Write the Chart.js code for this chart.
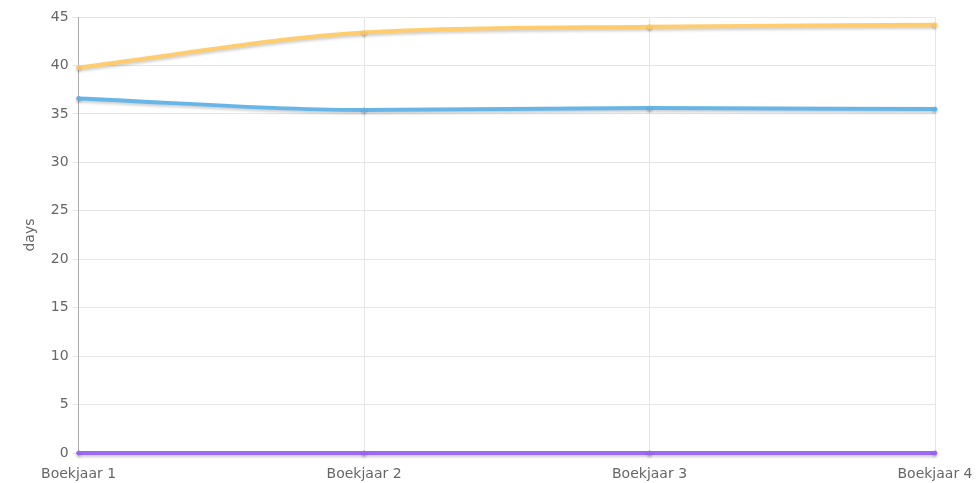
<!DOCTYPE html>
<html>
<head>
<meta charset="utf-8">
<script src="https://cdn.jsdelivr.net/npm/chart.js@4"></script>
<style>
  body { margin: 0; background: #fff; }
  #wrap { width: 978px; height: 483px; }
</style>
</head>
<body>
<div id="wrap"><canvas id="grafiek"></canvas></div>
<script>
const labels = ['Boekjaar 1', 'Boekjaar 2', 'Boekjaar 3', 'Boekjaar 4'];
const oranje = [39.8, 43.4, 44.0, 44.2];
const blauw = [36.6, 35.4, 35.6, 35.5];
const paars = [0, 0, 0, 0];

// lichte schaduw onder de lijnen
const schaduw = {
  id: 'schaduw',
  beforeDatasetDraw(chart) {
    const ctx = chart.ctx;
    ctx.save();
    ctx.shadowColor = 'rgba(0,0,0,0.2)';
    ctx.shadowBlur = 3;
    ctx.shadowOffsetY = 2;
  },
  afterDatasetDraw(chart) {
    chart.ctx.restore();
  }
};

Chart.defaults.font.family = 'DejaVu Sans';
Chart.defaults.font.size = 14;
Chart.defaults.color = '#666';

function reeks(data, kleur) {
  return {
    data: data,
    borderColor: kleur,
    backgroundColor: kleur,
    borderWidth: 4,
    pointRadius: 2,
    pointBorderWidth: 1,
    tension: 0.4,
    cubicInterpolationMode: 'monotone',
    fill: false,
    clip: false
  };
}

new Chart(document.getElementById('grafiek'), {
  type: 'line',
  data: {
    labels: labels,
    datasets: [
      reeks(oranje, 'rgb(255, 205, 110)'),
      reeks(blauw, 'rgb(104, 182, 232)'),
      reeks(paars, 'rgb(158, 105, 245)')
    ]
  },
  options: {
    responsive: true,
    maintainAspectRatio: false,
    animation: false,
    layout: { padding: { top: 17, right: 43, bottom: 0, left: 18 } },
    plugins: { legend: { display: false }, tooltip: { enabled: false } },
    scales: {
      x: {
        grid: { color: '#e6e6e6', drawTicks: false },
        border: { color: '#bbb' },
        ticks: { padding: 13 },
        afterFit: function (scale) {
          scale.height = 30;
          scale.paddingLeft = 0;
          scale.paddingRight = 0;
        }
      },
      y: {
        min: 0,
        max: 45,
        ticks: { stepSize: 5, padding: 4 },
        grid: { color: '#e6e6e6', tickLength: 6 },
        border: { color: '#aaa' },
        title: { display: true, text: 'days', padding: { top: 4, bottom: 8 } }
      }
    }
  },
  plugins: [schaduw]
});
</script>
</body>
</html>
